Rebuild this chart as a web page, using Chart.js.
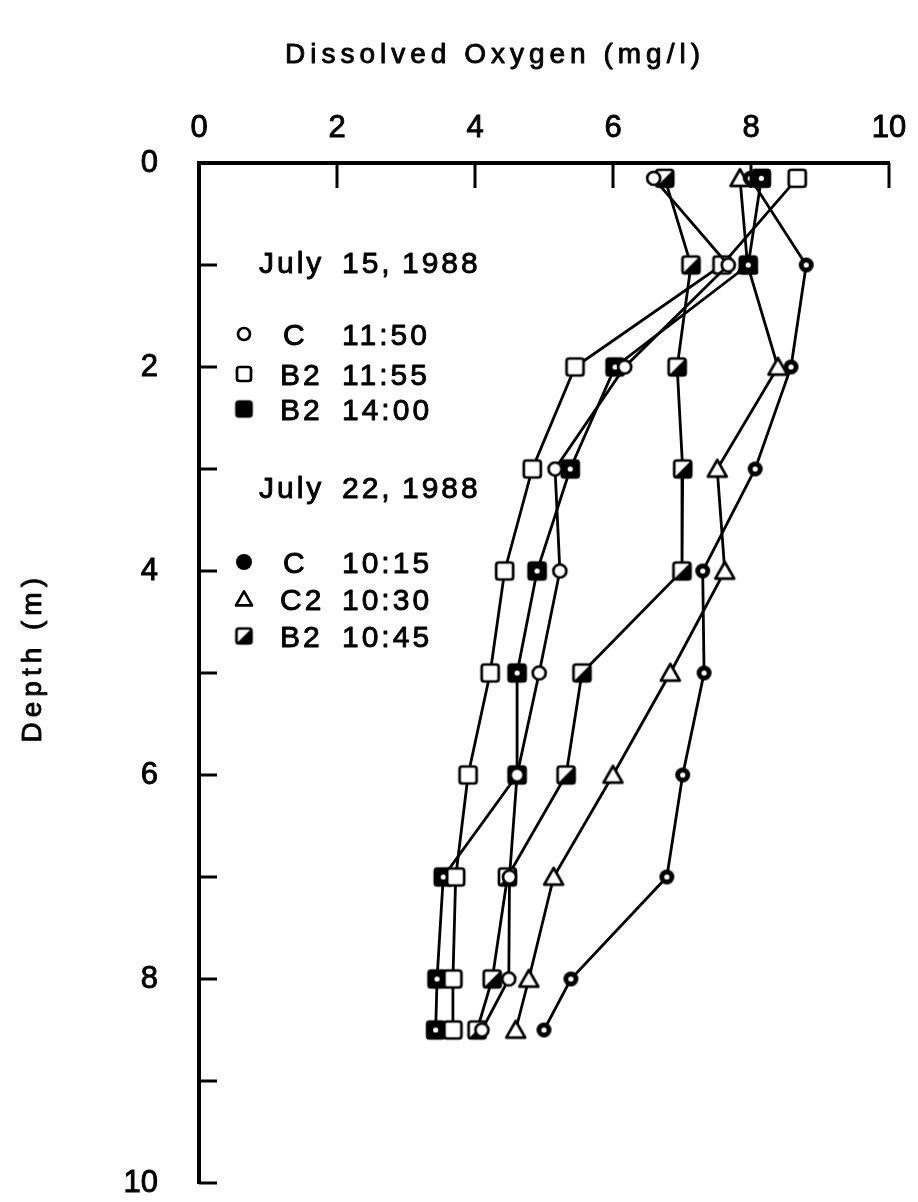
<!DOCTYPE html>
<html>
<head>
<meta charset="utf-8">
<script src="https://cdn.jsdelivr.net/npm/chart.js@4/dist/chart.umd.min.js"></script>
<style>
  html, body { margin: 0; padding: 0; background: #fff; }
  canvas { display: block; }
</style>
</head>
<body>
<canvas id="chart" width="918" height="1202"></canvas>
<script>
// Sampling depths (m) and dissolved oxygen profiles (mg/l)
const depths    = [0.15, 1, 2, 3, 4, 5, 6, 7, 8, 8.5];
const oxyC1150  = [6.59, 7.67, 6.17, 5.16, 5.23, 4.93, 4.61, 4.50, 4.49, 4.10];
const oxyB21155 = [8.67, 7.58, 5.45, 4.83, 4.43, 4.22, 3.90, 3.72, 3.68, 3.68];
const oxyB21400 = [8.15, 7.96, 6.03, 5.38, 4.90, 4.61, 4.61, 3.54, 3.45, 3.43];
const oxyC1015  = [7.99, 8.80, 8.58, 8.06, 7.30, 7.32, 7.01, 6.78, 5.39, 5.00];
const oxyC21030 = [7.84, 7.95, 8.39, 7.51, 7.62, 6.83, 6.00, 5.14, 4.78, 4.59];
const oxyB21045 = [6.75, 7.13, 6.93, 7.01, 7.00, 5.55, 5.32, 4.47, 4.25, 4.03];

// Axis ticks
const xTickValues = [0, 2, 4, 6, 8, 10];
const yTickValues = [0, 1, 2, 3, 4, 5, 6, 7, 8, 9, 10];

// Legend text
const surveyDates = ['July 15, 1988', 'July 22, 1988'];
const stationNames = ['C', 'B2', 'B2', 'C', 'C2', 'B2'];
const sampleTimes = ['11:50', '11:55', '14:00', '10:15', '10:30', '10:45'];

const FONT = "'Liberation Sans', Arial, Helvetica, sans-serif";

// ---- marker glyphs drawn on small canvases ----
function glyph(kind, s) {
  const pad = 3;
  const c = document.createElement('canvas');
  c.width = c.height = Math.ceil(s + pad * 2);
  const g = c.getContext('2d');
  const m = c.width / 2;
  const h = s / 2;
  g.lineWidth = 2.7;
  g.strokeStyle = '#000';
  g.fillStyle = '#fff';
  g.lineJoin = 'round';
  const roundRect = () => {
    g.beginPath();
    g.roundRect(m - h, m - h, s, s, 2.5);
  };
  switch (kind) {
    case 'openCircle':
      g.beginPath(); g.arc(m, m, h - 1, 0, Math.PI * 2); g.fill(); g.stroke();
      break;
    case 'openSquare':
      roundRect(); g.fill(); g.stroke();
      break;
    case 'fillSquareDot':
      roundRect(); g.fillStyle = '#000'; g.fill(); g.stroke();
      g.beginPath(); g.arc(m, m, 2.6, 0, Math.PI * 2); g.fillStyle = '#fff'; g.fill();
      break;
    case 'fillSquare':
      roundRect(); g.fillStyle = '#000'; g.fill(); g.stroke();
      break;
    case 'ringDot':
      g.beginPath(); g.arc(m, m, h, 0, Math.PI * 2); g.fillStyle = '#000'; g.fill();
      g.beginPath(); g.arc(m, m, 2.6, 0, Math.PI * 2); g.fillStyle = '#fff'; g.fill();
      break;
    case 'fillCircle':
      g.beginPath(); g.arc(m, m, h, 0, Math.PI * 2); g.fillStyle = '#000'; g.fill();
      break;
    case 'triangle':
      g.beginPath();
      g.moveTo(m, m - h * 0.95);
      g.lineTo(m + h, m + h * 0.8);
      g.lineTo(m - h, m + h * 0.8);
      g.closePath(); g.fill(); g.stroke();
      break;
    case 'halfSquare':
      roundRect(); g.fill();
      g.beginPath();
      g.moveTo(m - h, m + h); g.lineTo(m + h, m - h); g.lineTo(m + h, m + h); g.closePath();
      g.fillStyle = '#000'; g.fill();
      roundRect(); g.stroke();
      break;
  }
  return c;
}

const plotMarks = [
  glyph('openCircle', 15),
  glyph('openSquare', 17),
  glyph('fillSquareDot', 17),
  glyph('ringDot', 15),
  glyph('triangle', 19),
  glyph('halfSquare', 17)
];
const legendMarks = [
  glyph('openCircle', 14),
  glyph('openSquare', 14),
  glyph('fillSquare', 15),
  glyph('fillCircle', 16),
  glyph('triangle', 16),
  glyph('halfSquare', 15)
];

const profiles = [oxyC1150, oxyB21155, oxyB21400, oxyC1015, oxyC21030, oxyB21045];

const datasets = profiles.map((vals, i) => ({
  label: stationNames[i] + ' ' + sampleTimes[i],
  data: vals.map((v, k) => ({ x: v, y: depths[k] })),
  showLine: true,
  borderColor: '#000',
  borderWidth: 2.8,
  tension: 0,
  pointStyle: plotMarks[i],
  pointRadius: 9,
  pointHoverRadius: 9,
  clip: false
}));

// text with a slightly heavier stroke, like the printed lettering
function heavyText(ctx, str, x, y) {
  ctx.fillText(str, x, y);
  ctx.strokeText(str, x, y);
}

// Inward tick marks, axis titles and the two-date legend
const annotations = {
  id: 'annotations',
  afterDraw(chart) {
    const ctx = chart.ctx;
    const xs = chart.scales.x, ys = chart.scales.y;
    const top = chart.chartArea.top, left = chart.chartArea.left;
    ctx.save();
    ctx.strokeStyle = '#000';
    ctx.lineWidth = 3;
    ctx.lineCap = 'butt';
    xTickValues.forEach(v => {
      if (v === 0) return;
      const px = xs.getPixelForValue(v);
      ctx.beginPath(); ctx.moveTo(px, top); ctx.lineTo(px, top + 25); ctx.stroke();
    });
    yTickValues.forEach(v => {
      if (v === 0) return;
      const py = ys.getPixelForValue(v);
      ctx.beginPath(); ctx.moveTo(left, py); ctx.lineTo(left + 18, py); ctx.stroke();
    });
    ctx.fillStyle = '#000';
    ctx.fillRect(left - 2, top - 2, 4, 4);

    // axis titles
    ctx.lineWidth = 0.9;
    ctx.lineJoin = 'round';
    ctx.textBaseline = 'alphabetic';
    ctx.font = '28px ' + FONT;
    ctx.letterSpacing = '5px';
    ctx.textAlign = 'left';
    heavyText(ctx, 'Dissolved Oxygen (mg/l)', 285, 63);

    ctx.save();
    ctx.translate(41, 578);
    ctx.rotate(-Math.PI / 2);
    ctx.textAlign = 'right';
    heavyText(ctx, 'Depth (m)', 5, 0);
    ctx.restore();

    // legend
    ctx.font = '30px ' + FONT;
    ctx.letterSpacing = '3px';
    ctx.textAlign = 'left';
    const dateBaselines = [273, 498];
    surveyDates.forEach((d, i) => {
      const parts = d.split(' ');
      const cols = [259, 342, 402];
      parts.forEach((p, j) => heavyText(ctx, p, cols[j], dateBaselines[i]));
    });
    const rowBaselines = [345, 385, 420, 573, 610, 647];
    rowBaselines.forEach((b, i) => {
      const mk = legendMarks[i];
      ctx.drawImage(mk, 244 - mk.width / 2, b - 11 - mk.height / 2);
      const name = stationNames[i];
      heavyText(ctx, name, name.length === 1 ? 283 : 280, b);
      heavyText(ctx, sampleTimes[i], 342, b);
    });
    ctx.restore();
  }
};

// keep the plot frame fixed: no extra room reserved for edge tick labels
function noEdgePadding(s) {
  s.paddingTop = 0;
  s.paddingBottom = 0;
  s.paddingLeft = 0;
  s.paddingRight = 0;
}

const tickFont = { family: FONT, size: 31 };

new Chart(document.getElementById('chart'), {
  type: 'scatter',
  data: { datasets },
  plugins: [annotations],
  options: {
    responsive: false,
    animation: false,
    devicePixelRatio: 1,
    layout: { padding: { left: 0, top: 0, right: 29, bottom: 19 } },
    plugins: {
      legend: { display: false },
      tooltip: { enabled: false },
      title: { display: false }
    },
    scales: {
      x: {
        type: 'linear',
        position: 'top',
        min: 0,
        max: 10,
        afterBuildTicks: s => { s.ticks = xTickValues.map(v => ({ value: v })); },
        afterFit: s => { s.height = 163; noEdgePadding(s); },
        grid: { display: false, drawTicks: false },
        border: { display: true, color: '#000', width: 4 },
        ticks: {
          color: '#000',
          font: tickFont,
          textStrokeColor: '#000',
          textStrokeWidth: 0.9,
          padding: 16,
          maxRotation: 0,
          autoSkip: false
        }
      },
      y: {
        type: 'linear',
        reverse: true,
        min: 0,
        max: 10,
        afterBuildTicks: s => { s.ticks = yTickValues.map(v => ({ value: v })); },
        afterFit: s => { s.width = 199; noEdgePadding(s); },
        grid: { display: false, drawTicks: false },
        border: { display: true, color: '#000', width: 4 },
        ticks: {
          color: '#000',
          font: tickFont,
          textStrokeColor: '#000',
          textStrokeWidth: 0.9,
          padding: 41,
          autoSkip: false,
          callback: v => (v % 2 === 0 ? String(v) : '')
        }
      }
    }
  }
});
</script>
</body>
</html>
